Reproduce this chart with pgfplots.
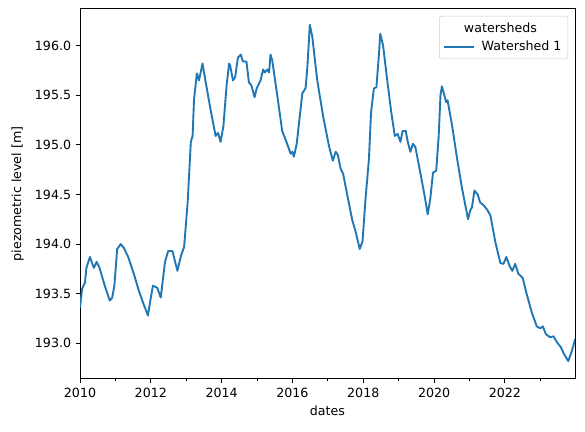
\documentclass[border=0pt]{standalone}
\usepackage{fontspec}
\setmainfont{DejaVu Sans}
\usepackage{pgfplots}
\pgfplotsset{compat=1.18}
\definecolor{mplblue}{HTML}{1F77B4}
\begin{document}
\begin{tikzpicture}
\useasboundingbox (-63.3pt,-41.9pt) rectangle (399.5pt,299.8pt);
\begin{axis}[
  scale only axis, width=391.6pt, height=292.7pt,
  xmin=2010, xmax=2023.98, ymin=192.64, ymax=196.37,
  xtick={2010,2012,2014,2016,2018,2020,2022},
  minor xtick={2011,2013,2015,2017,2019,2021,2023},
  ytick={193,193.5,194,194.5,195,195.5,196},
  /pgf/number format/assume math mode=true,
  x tick label style={/pgf/number format/.cd, 1000 sep={}},
  y tick label style={/pgf/number format/.cd, fixed, fixed zerofill, precision=1},
  tick align=outside, tick pos=left,
  major tick length=3.5pt, minor tick length=2pt,
  every tick/.style={black, line width=0.8pt},
  axis line style={line width=0.8pt},
  xlabel={dates}, ylabel={piezometric level [m]},
  ylabel style={xshift=0pt, yshift=2pt},
  legend style={at={(1,1)}, anchor=north east, xshift=-5.5pt, yshift=-5.5pt,
    draw=black!20, rounded corners=2pt, cells={anchor=west}, row sep=1.5pt,
    inner xsep=3pt, inner ysep=3pt,
    /tikz/every odd column/.append style={column sep=3pt}},
  legend image code/.code={\draw[#1] (0pt,0pt) -- (24pt,0pt);},
]
\addlegendimage{empty legend}
\addlegendentry{\hspace*{-14pt}watersheds}
\addplot[mplblue, line width=1.5pt, line join=round] coordinates {
(2010.00,193.36) (2010.06,193.55) (2010.14,193.61) (2010.18,193.76) (2010.28,193.87)
(2010.39,193.76) (2010.47,193.82) (2010.55,193.76) (2010.70,193.58) (2010.84,193.43)
(2010.91,193.46) (2010.97,193.58) (2011.05,193.95) (2011.15,194.00) (2011.24,193.96)
(2011.36,193.87) (2011.52,193.70) (2011.66,193.53) (2011.80,193.39) (2011.92,193.28)
(2011.99,193.44) (2012.06,193.58) (2012.18,193.56) (2012.28,193.46) (2012.40,193.82)
(2012.49,193.93) (2012.61,193.93) (2012.75,193.73) (2012.85,193.88) (2012.94,193.97)
(2013.04,194.42) (2013.13,195.03) (2013.18,195.09) (2013.22,195.46) (2013.30,195.72)
(2013.36,195.65) (2013.46,195.82) (2013.55,195.63) (2013.69,195.35) (2013.83,195.09)
(2013.90,195.12) (2013.97,195.03) (2014.05,195.19) (2014.14,195.60) (2014.21,195.82)
(2014.24,195.80) (2014.32,195.65) (2014.38,195.68) (2014.46,195.88) (2014.54,195.91)
(2014.60,195.84) (2014.70,195.84) (2014.77,195.63) (2014.84,195.60) (2014.93,195.48)
(2014.99,195.57) (2015.10,195.65) (2015.17,195.76) (2015.22,195.73) (2015.29,195.76)
(2015.34,195.73) (2015.38,195.91) (2015.43,195.85) (2015.57,195.50) (2015.71,195.14)
(2015.83,195.03) (2015.95,194.91) (2016.00,194.93) (2016.04,194.88) (2016.12,195.01)
(2016.21,195.30) (2016.28,195.52) (2016.37,195.57) (2016.42,195.78) (2016.49,196.21)
(2016.56,196.09) (2016.70,195.65) (2016.87,195.28) (2017.03,194.99) (2017.14,194.84)
(2017.22,194.93) (2017.28,194.90) (2017.36,194.76) (2017.43,194.71) (2017.55,194.49)
(2017.69,194.24) (2017.78,194.13) (2017.90,193.95) (2017.98,194.03) (2018.06,194.44)
(2018.16,194.86) (2018.22,195.33) (2018.30,195.57) (2018.37,195.58) (2018.44,195.90)
(2018.48,196.12) (2018.56,196.00) (2018.67,195.67) (2018.79,195.33) (2018.89,195.09)
(2018.97,195.11) (2019.05,195.03) (2019.11,195.14) (2019.20,195.14) (2019.25,195.04)
(2019.33,194.93) (2019.40,195.01) (2019.47,194.98) (2019.61,194.72) (2019.73,194.49)
(2019.82,194.30) (2019.89,194.45) (2019.97,194.72) (2020.06,194.74) (2020.13,195.09)
(2020.18,195.50) (2020.22,195.59) (2020.29,195.50) (2020.34,195.43) (2020.38,195.45)
(2020.51,195.19) (2020.65,194.86) (2020.79,194.56) (2020.96,194.25) (2021.02,194.34)
(2021.07,194.37) (2021.14,194.54) (2021.23,194.50) (2021.30,194.42) (2021.40,194.39)
(2021.49,194.35) (2021.59,194.29) (2021.73,194.02) (2021.87,193.81) (2021.96,193.80)
(2022.04,193.87) (2022.13,193.78) (2022.21,193.73) (2022.29,193.80) (2022.38,193.70)
(2022.50,193.66) (2022.62,193.49) (2022.76,193.31) (2022.90,193.17) (2023.00,193.15)
(2023.07,193.17) (2023.16,193.09) (2023.28,193.06) (2023.37,193.07) (2023.47,193.01)
(2023.58,192.96) (2023.67,192.89) (2023.79,192.82) (2023.86,192.89) (2023.93,192.97)
(2023.98,193.04)
};
\addlegendentry{Watershed 1}
\end{axis}
\end{tikzpicture}
\end{document}
